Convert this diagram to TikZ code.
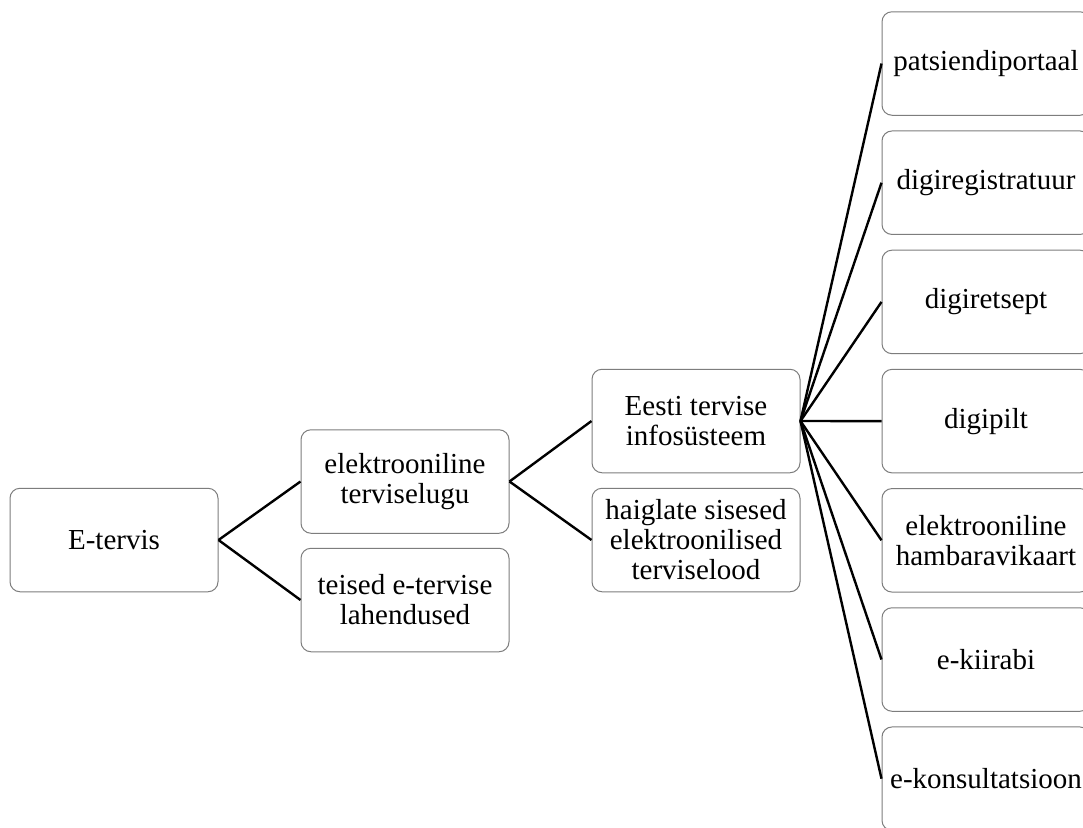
\documentclass[tikz,border=0pt]{standalone}
\usepackage{fontspec}
\setmainfont{Liberation Serif}
\definecolor{boxline}{RGB}{125,125,125}
\begin{document}
\begin{tikzpicture}[x=0.5pt,y=-0.5pt,
  box/.style={draw=boxline, line width=0.5pt, fill=white, rounded corners=5pt,
    minimum width=104pt, minimum height=51.75pt, inner sep=2pt, align=center,
    font=\fontsize{14.5pt}{15pt}\selectfont},
  link/.style={draw=black, line width=1.2pt}]
\clip (0,0) rectangle (1083,827);
\fill[white] (0,0) rectangle (1083,827);
% columns
\node[box] (et) at (114,540) {E-tervis};
\node[box] (etl) at (405,481.5) {elektrooniline\\terviselugu};
\node[box] (tei) at (405,600) {teised e-tervise\\lahendused};
\node[box] (tis) at (696,421) {Eesti tervise\\infosüsteem};
\node[box] (hai) at (696,540) {haiglate sisesed\\elektroonilised\\terviselood};
\node[box] (r1) at (986,63.5) {patsiendiportaal};
\node[box] (r2) at (986,182.7) {digiregistratuur};
\node[box] (r3) at (986,301.9) {digiretsept};
\node[box] (r4) at (986,421.1) {digipilt};
\node[box] (r5) at (986,540.3) {elektrooniline\\hambaravikaart};
\node[box] (r6) at (986,659.5) {e-kiirabi};
\node[box] (r7) at (986,778.7) {e-konsultatsioon};
% connectors
\draw[link] (et.east) -- (etl.west);
\draw[link] (et.east) -- (tei.west);
\draw[link] (etl.east) -- (tis.west);
\draw[link] (etl.east) -- (hai.west);
\foreach \r in {r1,r2,r3,r4,r5,r6,r7}
  \draw[link] (tis.east) -- (\r.west);
\end{tikzpicture}
\end{document}
